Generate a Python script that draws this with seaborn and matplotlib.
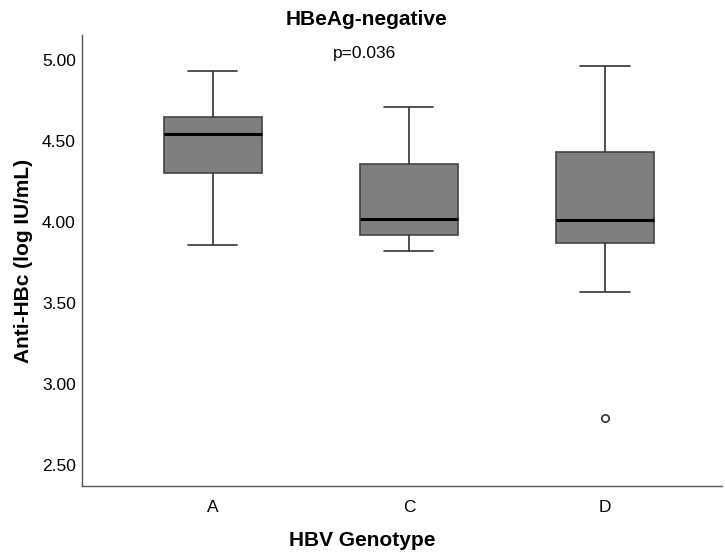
import pandas as pd
import matplotlib.pyplot as plt
import seaborn as sns

# values (log IU/mL)
genotypes = ['A', 'C', 'D']
whisker_low = [3.86, 3.82, 3.57]
q1 = [4.30, 3.92, 3.87]
median = [4.54, 4.02, 4.01]
q3 = [4.65, 4.36, 4.43]
whisker_high = [4.93, 4.71, 4.96]
outlier_group = ['D']
outlier_value = [2.79]


def build_frame():
    rows = []
    for i, g in enumerate(genotypes):
        for v in (whisker_low[i], q1[i], median[i], q3[i], whisker_high[i]):
            rows.append({'genotype': g, 'value': v})
    return pd.DataFrame(rows)


def main():
    sns.set_style('white')
    plt.rcParams['font.family'] = ['Liberation Sans', 'DejaVu Sans']
    plt.rcParams['text.color'] = 'black'
    plt.rcParams['axes.labelcolor'] = 'black'

    df = build_frame()
    fig = plt.figure(figsize=(7.25, 5.54), dpi=100)
    ax = fig.add_axes([0.1131, 0.1227, 0.8828, 0.8141])

    line_kws = dict(color='#333333', linewidth=1.2)
    sns.boxplot(x='genotype', y='value', data=df, order=genotypes, ax=ax,
                width=0.5, whis=(0, 100), showfliers=False,
                boxprops=dict(facecolor='#7f7f7f', edgecolor='#444444', linewidth=1.2),
                whiskerprops=line_kws, capprops=line_kws,
                medianprops=dict(color='black', linewidth=2.2))

    outliers = pd.DataFrame({'genotype': outlier_group, 'value': outlier_value})
    sns.scatterplot(x='genotype', y='value', data=outliers, ax=ax, marker='o',
                    s=28, facecolor='white', edgecolor='#333333', linewidth=1.2,
                    zorder=5)

    ax.set_xlim(-0.668, 2.597)
    ax.set_ylim(2.37, 5.154)
    ax.set_yticks([2.5, 3.0, 3.5, 4.0, 4.5, 5.0])
    ax.set_yticklabels(['2.50', '3.00', '3.50', '4.00', '4.50', '5.00'])
    ax.tick_params(axis='both', length=0, labelsize=12.5, colors='black')
    ax.tick_params(axis='x', pad=10)
    ax.tick_params(axis='y', pad=4.5)

    for side in ('top', 'right'):
        ax.spines[side].set_visible(False)
    for side in ('left', 'bottom'):
        ax.spines[side].set_color('#555555')
        ax.spines[side].set_linewidth(1.0)

    ax.set_xlabel('HBV Genotype', fontsize=15, fontweight='bold')
    ax.set_ylabel('Anti-HBc (log IU/mL)', fontsize=15, fontweight='bold')
    ax.xaxis.set_label_coords(0.438, -0.10)
    ax.yaxis.set_label_coords(-0.076, 0.5)
    fig.text(0.506, 0.964, 'HBeAg-negative', ha='center', va='center',
             fontsize=15, fontweight='bold')
    fig.text(0.503, 0.904, 'p=0.036', ha='center', va='center', fontsize=12.5)

    fig.savefig('out.png', dpi=100)


if __name__ == "__main__":
    main()
